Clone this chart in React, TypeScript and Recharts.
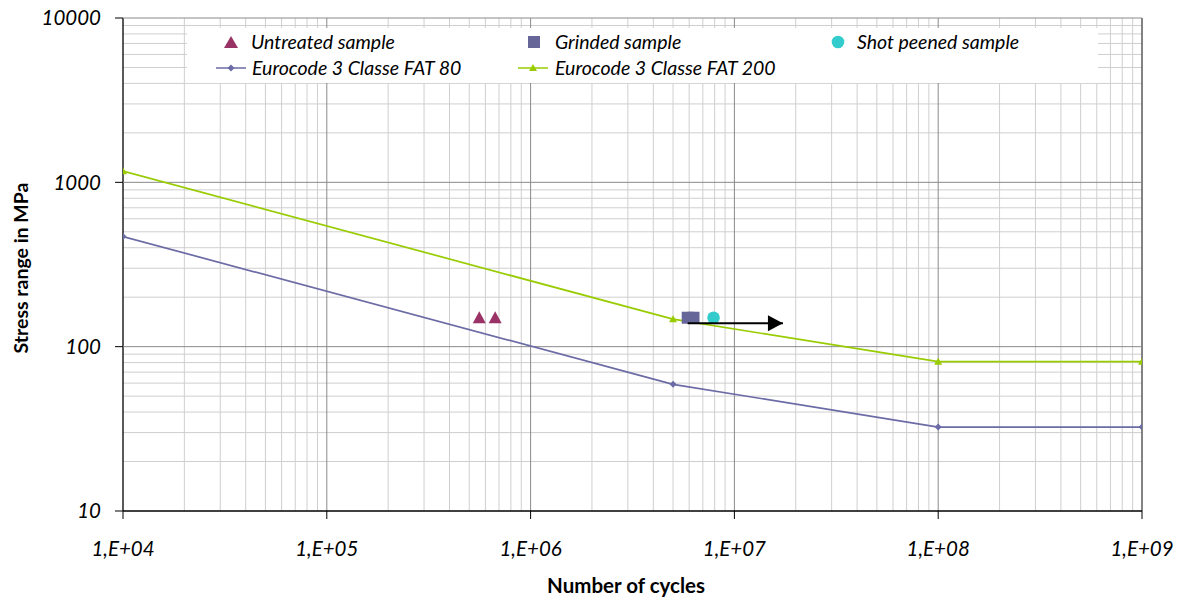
import React from 'react';
import { ComposedChart, Line, Scatter, XAxis, YAxis, ReferenceLine, Legend, Label } from 'recharts';

// ---- data ----
const fat80Cycles = [1e4, 5e6, 1e8, 1e9];
const fat80Stress = [468, 59, 32.4, 32.4];
const fat200Cycles = [1e4, 5e6, 1e8, 1e9];
const fat200Stress = [1170, 147, 81, 81];
const untreatedCycles = [5.6e5, 6.7e5];
const untreatedStress = [150, 150];
const grindedCycles = [5.9e6, 6.3e6];
const grindedStress = [150, 150];
const shotCycles = [7.9e6];
const shotStress = [150];
const arrowCycles = [5.9e6, 1.73e7];
const arrowStress = [139, 139];

const xTicks = [1e4, 1e5, 1e6, 1e7, 1e8, 1e9];
const yTicks = [10, 100, 1000, 10000];
const xTickLabels = ['1,E+04', '1,E+05', '1,E+06', '1,E+07', '1,E+08', '1,E+09'];
const yTickLabels = ['10', '100', '1000', '10000'];
const legendNames = [
  'Untreated sample',
  'Grinded sample',
  'Shot peened sample',
  'Eurocode 3 Classe FAT 80',
  'Eurocode 3 Classe FAT 200',
];

const C_FAT80 = '#6B6BA6';
const C_FAT200 = '#99CC00';
const C_UNTR = '#993366';
const C_GRIND = '#666699';
const C_SHOT = '#33CCCC';
const FONT = 'Lato, "Open Sans", sans-serif';

const zip = (xs: number[], ys: number[]) => xs.map((x, i) => ({ x, y: ys[i] }));

const fat80 = zip(fat80Cycles, fat80Stress);
const fat200 = zip(fat200Cycles, fat200Stress);
const untreated = zip(untreatedCycles, untreatedStress);
const grinded = zip(grindedCycles, grindedStress);
const shot = zip(shotCycles, shotStress);
const arrow = zip(arrowCycles, arrowStress);

const minorOf = (majors: number[]) => {
  const out: number[] = [];
  for (let i = 0; i < majors.length - 1; i++) {
    for (let m = 2; m <= 9; m++) out.push(majors[i] * m);
  }
  return out;
};
const xMinor = minorOf(xTicks);
const yMinor = minorOf(yTicks);

const Diamond = (props: any) => {
  const { cx, cy, index } = props;
  if (cx == null || cy == null) return <g key={'d' + index} />;
  const r = 3.5;
  return (
    <path key={'d' + index} d={`M${cx},${cy - r}L${cx + r},${cy}L${cx},${cy + r}L${cx - r},${cy}Z`} fill={C_FAT80} />
  );
};
const SmallTri = (props: any) => {
  const { cx, cy, index } = props;
  if (cx == null || cy == null) return <g key={'t' + index} />;
  const r = 4;
  return (
    <path key={'t' + index} d={`M${cx},${cy - r}L${cx + r},${cy + r * 0.75}L${cx - r},${cy + r * 0.75}Z`} fill={C_FAT200} />
  );
};
const BigTri = (props: any) => {
  const { cx, cy } = props;
  return <path d={`M${cx},${cy - 6.5}L${cx + 6.5},${cy + 5.5}L${cx - 6.5},${cy + 5.5}Z`} fill={C_UNTR} />;
};
const Square = (props: any) => {
  const { cx, cy } = props;
  return <rect x={cx - 6} y={cy - 6} width={12} height={12} fill={C_GRIND} />;
};
const Circle = (props: any) => {
  const { cx, cy } = props;
  return <circle cx={cx} cy={cy} r={6.3} fill={C_SHOT} />;
};
const ArrowHead = (props: any) => {
  const { cx, cy, payload } = props;
  if (!payload || payload.x !== arrowCycles[arrowCycles.length - 1]) return <g />;
  return <path d={`M${cx},${cy}L${cx - 15},${cy - 8}L${cx - 15},${cy + 8}Z`} fill="#000" />;
};

const LegendBox = () => {
  const txt: React.CSSProperties = {
    position: 'absolute',
    fontFamily: FONT,
    fontStyle: 'italic',
    fontSize: 19.5,
    color: '#000',
    whiteSpace: 'nowrap',
    lineHeight: '20px',
  };
  return (
    <div style={{ position: 'relative', width: 911, height: 55, background: '#fff' }}>
      <svg width={911} height={55} style={{ position: 'absolute', left: 0, top: 0 }}>
        <path d="M44,8L51,20L37,20Z" fill={C_UNTR} />
        <rect x={341} y={8} width={12} height={12} fill={C_GRIND} />
        <circle cx={651} cy={14} r={6.3} fill={C_SHOT} />
        <line x1={29} y1={40} x2={59} y2={40} stroke={C_FAT80} strokeWidth={1.5} />
        <path d="M44,36.5L47.5,40L44,43.5L40.5,40Z" fill={C_FAT80} />
        <line x1={331} y1={40} x2={361} y2={40} stroke={C_FAT200} strokeWidth={1.5} />
        <path d="M346,36L350,43L342,43Z" fill={C_FAT200} />
      </svg>
      <span style={{ ...txt, left: 64, top: 4 }}>{legendNames[0]}</span>
      <span style={{ ...txt, left: 368, top: 4 }}>{legendNames[1]}</span>
      <span style={{ ...txt, left: 670, top: 4 }}>{legendNames[2]}</span>
      <span style={{ ...txt, left: 65, top: 30 }}>{legendNames[3]}</span>
      <span style={{ ...txt, left: 368, top: 30 }}>{legendNames[4]}</span>
    </div>
  );
};

const tickStyle = { fontSize: 20.5, fontStyle: 'italic', fontFamily: FONT, fill: '#000' };

export default function App() {
  return (
    <div style={{ position: 'absolute', left: 0, top: 0, width: 1179, height: 599, background: '#fff' }}>
      <ComposedChart width={1179} height={599} margin={{ top: 18, right: 37, bottom: 0, left: 0 }}>
        <XAxis
          dataKey="x"
          type="number"
          scale="log"
          domain={[1e4, 1e9]}
          ticks={xTicks}
          allowDataOverflow
          height={88}
          tickSize={8}
          tickMargin={22}
          tick={tickStyle}
          tickLine={{ stroke: '#000' }}
          axisLine={false}
          tickFormatter={(v: number) => xTickLabels[xTicks.indexOf(v)] ?? ''}
          interval={0}
        >
          <Label
            content={() => (
              <text x={626} y={593} textAnchor="middle" fontFamily={FONT} fontWeight="bold" fontSize={20.5} fill="#000">
                Number of cycles
              </text>
            )}
          />
        </XAxis>
        <YAxis
          dataKey="y"
          type="number"
          scale="log"
          domain={[10, 10000]}
          ticks={yTicks}
          allowDataOverflow
          width={123}
          tickSize={8}
          tickMargin={14}
          tick={tickStyle}
          tickLine={{ stroke: '#000' }}
          axisLine={false}
          tickFormatter={(v: number) => yTickLabels[yTicks.indexOf(v)] ?? ''}
          interval={0}
        >
          <Label
            content={() => (
              <text
                x={20}
                y={268}
                transform="rotate(-90 20 268)"
                textAnchor="middle"
                dominantBaseline="central"
                fontFamily={FONT}
                fontWeight="bold"
                fontSize={19.5}
                fill="#000"
              >
                Stress range in MPa
              </text>
            )}
          />
        </YAxis>
        {xMinor.map((v) => (
          <ReferenceLine key={'xm' + v} x={v} stroke="#cfcfcf" strokeWidth={1} />
        ))}
        {yMinor.map((v) => (
          <ReferenceLine key={'ym' + v} y={v} stroke="#cfcfcf" strokeWidth={1} />
        ))}
        {xTicks.map((v, i) => (
          <ReferenceLine
            key={'xM' + v}
            x={v}
            stroke={i === 0 ? '#000' : i === xTicks.length - 1 ? '#5a5a5a' : '#8a8a8a'}
            strokeWidth={i === 0 ? 1.3 : i === xTicks.length - 1 ? 1.5 : 1}
          />
        ))}
        {yTicks.map((v) => (
          <ReferenceLine key={'yM' + v} y={v} stroke={v === yTicks[0] ? '#000' : '#8a8a8a'} strokeWidth={v === yTicks[0] ? 1.3 : 1} />
        ))}
        <Legend
          layout="horizontal"
          verticalAlign="middle"
          align="center"
          content={() => <LegendBox />}
          wrapperStyle={{ position: 'absolute', left: 187, top: 28, width: 911, height: 55 }}
        />
        <Line
          data={fat80}
          dataKey="y"
          type="linear"
          stroke={C_FAT80}
          strokeWidth={1.7}
          dot={Diamond}
          activeDot={false}
          isAnimationActive={false}
          legendType="none"
        />
        <Line
          data={fat200}
          dataKey="y"
          type="linear"
          stroke={C_FAT200}
          strokeWidth={1.7}
          dot={SmallTri}
          activeDot={false}
          isAnimationActive={false}
          legendType="none"
        />
        <Scatter data={untreated} dataKey="y" shape={BigTri} isAnimationActive={false} legendType="none" />
        <Scatter data={grinded} dataKey="y" shape={Square} isAnimationActive={false} legendType="none" />
        <Scatter data={shot} dataKey="y" shape={Circle} isAnimationActive={false} legendType="none" />
        <Scatter
          data={arrow}
          dataKey="y"
          shape={ArrowHead}
          line={{ stroke: '#000', strokeWidth: 2 }}
          isAnimationActive={false}
          legendType="none"
        />
      </ComposedChart>
    </div>
  );
}
